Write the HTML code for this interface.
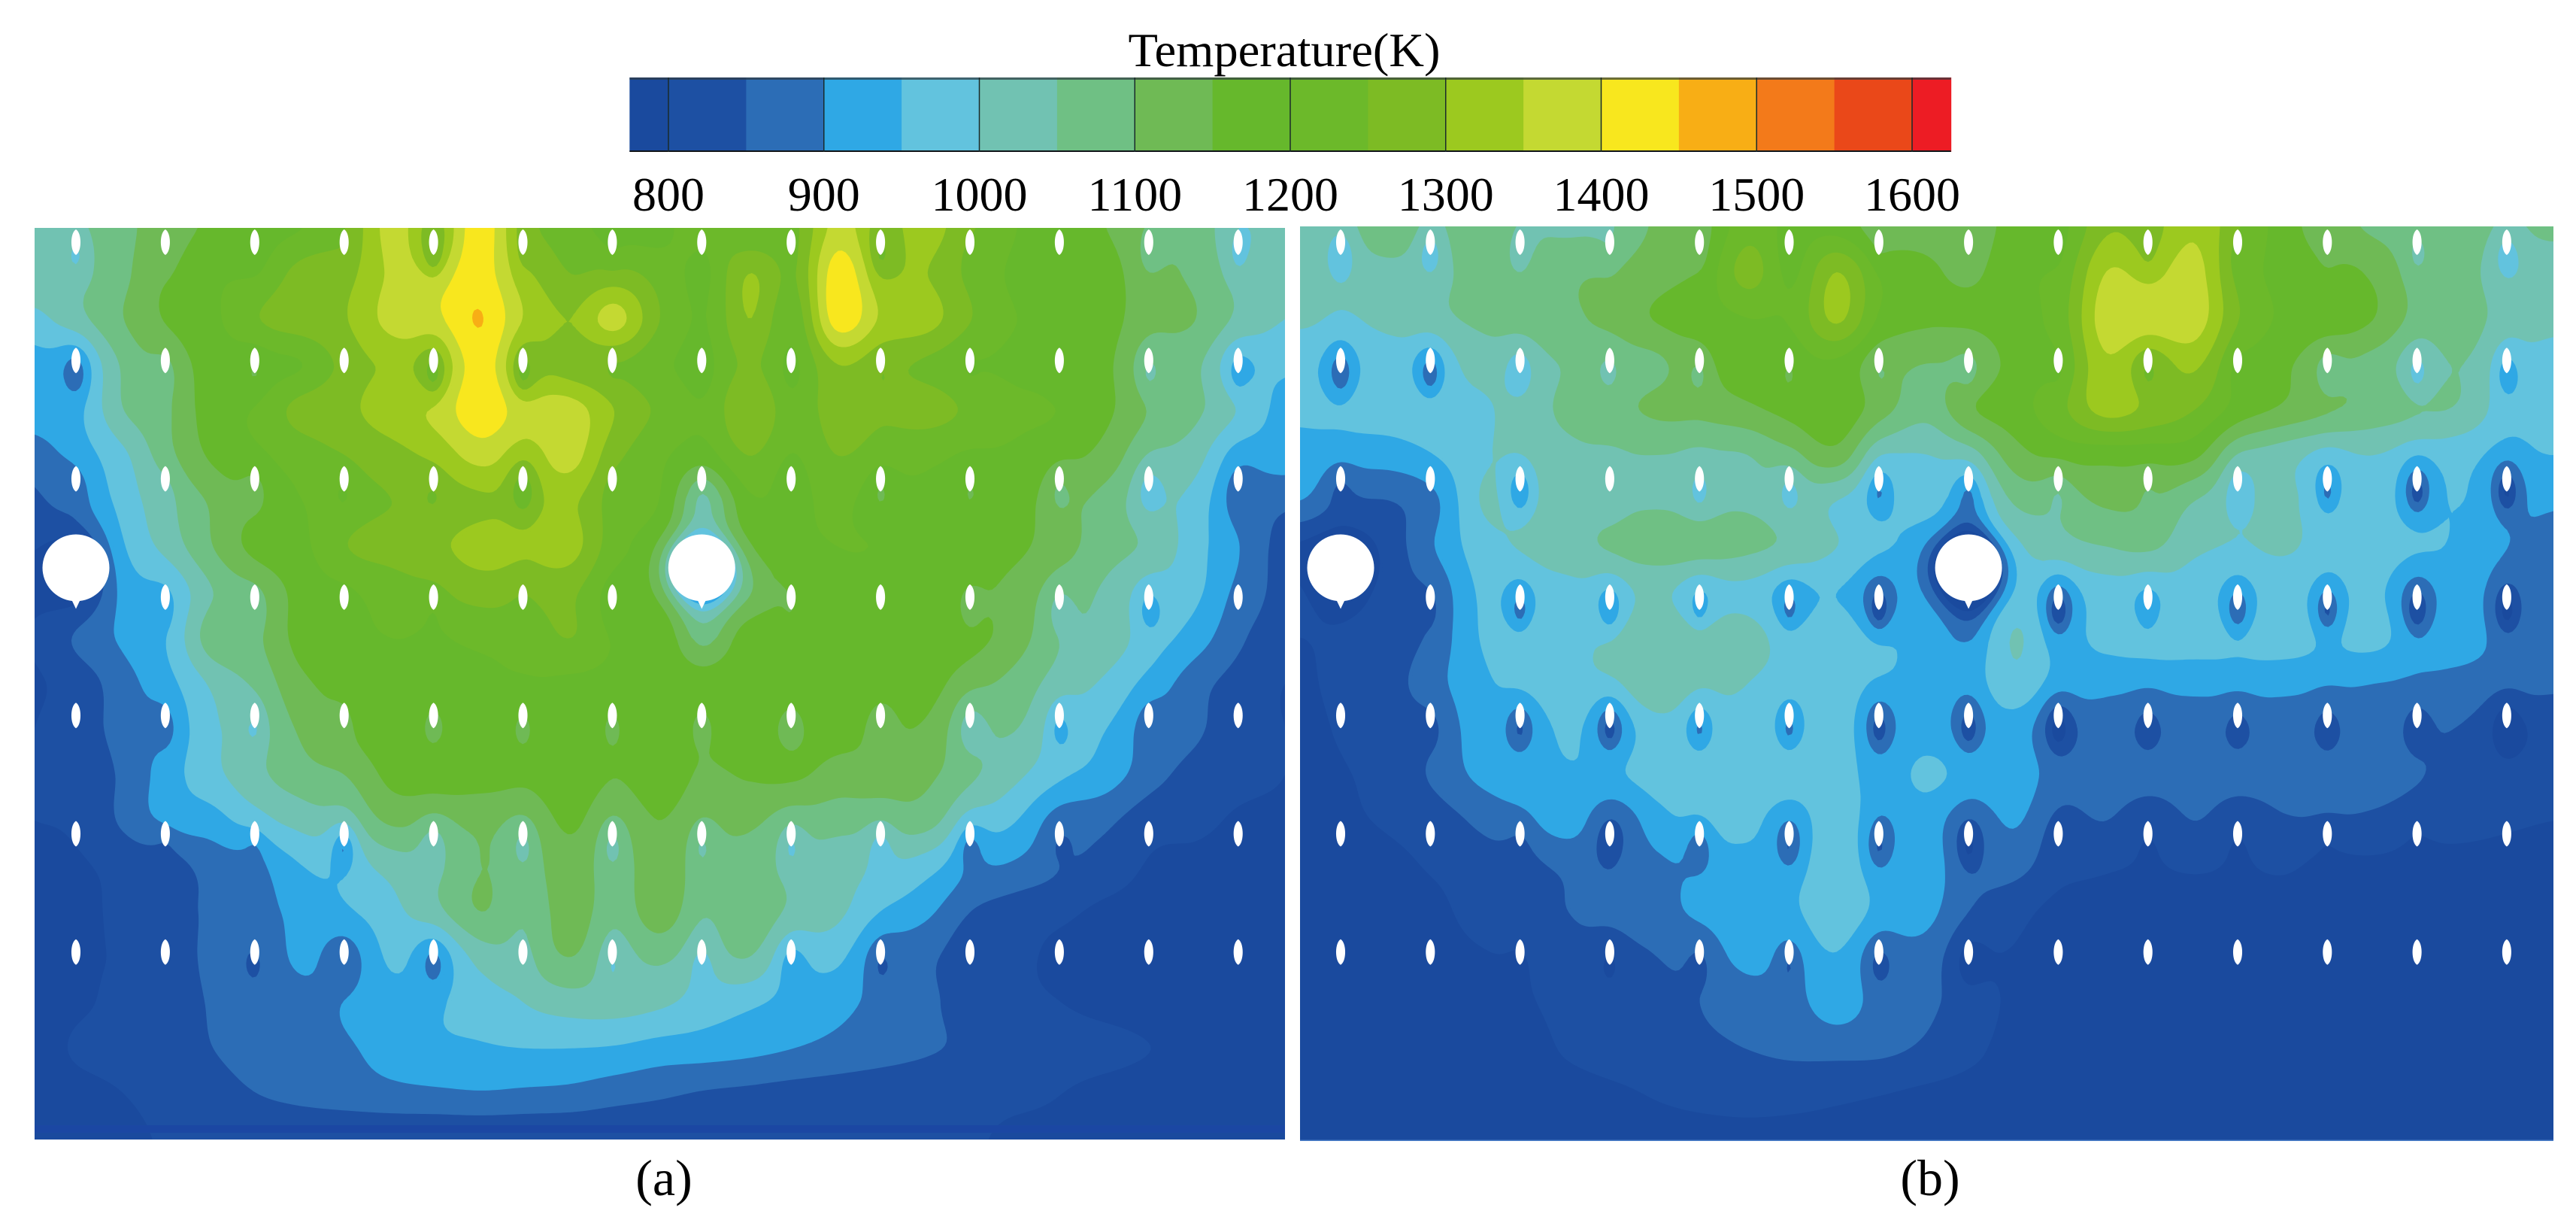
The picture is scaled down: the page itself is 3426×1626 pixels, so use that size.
<!DOCTYPE html>
<html lang="en">
<head>
<meta charset="utf-8">
<title>Temperature contours</title>
<style>
html,body{margin:0;padding:0;background:#fff;width:3426px;height:1626px;overflow:hidden}
svg{display:block}
text{font-family:"Liberation Serif",serif;fill:#000}
</style>
</head>
<body>
<svg id="chart" xmlns="http://www.w3.org/2000/svg" width="3426" height="1626" viewBox="0 0 3426 1626">
  <rect x="0" y="0" width="3426" height="1626" fill="#fff"/>
  <text x="1708" y="88" font-size="64" text-anchor="middle" textLength="415" lengthAdjust="spacingAndGlyphs">Temperature(K)</text>
  <g id="colorbar"></g>
  <g id="panelA"></g>
  <g id="panelB"></g>
  <rect x="46" y="1496" width="1663" height="10" fill="#1b47a3"/>
  <rect x="1729" y="1515.5" width="1667" height="1.5" fill="#4a7ec8"/>
  <text x="883" y="1589" font-size="68" text-anchor="middle">(a)</text>
  <text x="2567" y="1589" font-size="68" text-anchor="middle">(b)</text>
</svg>
<script>
const bandLevels = [800,850,900,950,1000,1050,1100,1150,1200,1250,1300,1350,1400,1450,1500,1550,1600];
const bandColors = ['#1a4a9e','#1d50a3','#2c6db6','#2fa8e5','#62c3de','#71c2b2','#6fc084','#6fba55','#66b82c','#6cb92a','#7dbb24','#9cc91f','#c4d932','#f8e71e','#f8ae15','#f37a1a','#ea4819','#ed1c24'];
const tickLabels = [800,900,1000,1100,1200,1300,1400,1500,1600];
const colorbarMin = 775;
const colorbarMax = 1625;

const tempGridA = [
[1040,1060,1090,1130,1160,1180,1200,1260,1370,1320,1430,1280,1220,1190,1180,1250,1200,1240,1370,1300,1320,1260,1200,1170,1150,1110,1080,1020,1010],
[1040,1050,1090,1160,1190,1210,1270,1290,1360,1390,1425,1320,1250,1270,1230,1200,1300,1250,1430,1320,1300,1240,1190,1190,1170,1120,1090,1040,1020],
[985,1040,1100,1160,1190,1250,1280,1300,1370,1395,1452,1350,1300,1370,1250,1200,1300,1220,1430,1340,1320,1250,1200,1200,1170,1120,1100,1040,1000],
[930,960,1060,1130,1170,1190,1200,1280,1310,1340,1425,1330,1270,1260,1210,1200,1260,1210,1300,1270,1240,1210,1190,1190,1160,1090,1060,980,960],
[925,950,1050,1100,1180,1210,1270,1290,1330,1370,1435,1380,1375,1300,1240,1210,1300,1220,1280,1260,1270,1240,1210,1200,1160,1100,1060,1000,930],
[875,930,990,1090,1160,1200,1220,1260,1280,1320,1370,1340,1370,1270,1210,1190,1250,1210,1250,1230,1210,1200,1190,1170,1130,1060,1020,930,925],
[840,900,970,1050,1110,1170,1200,1230,1250,1270,1290,1310,1310,1240,1200,1090,1190,1200,1210,1190,1190,1180,1170,1130,1080,1030,980,890,860],
[810,830,950,1020,1100,1170,1190,1250,1270,1290,1320,1310,1320,1220,1180,1170,1170,1190,1200,1200,1190,1180,1160,1120,1070,1040,970,900,830],
[795,810,920,960,1050,1110,1170,1200,1220,1250,1270,1270,1260,1190,1170,1120,1120,1170,1190,1190,1180,1170,1130,1090,1040,1000,960,890,830],
[805,860,910,960,1080,1100,1170,1190,1200,1200,1210,1220,1250,1200,1190,1110,1180,1190,1190,1190,1180,1170,1120,1060,1030,980,925,860,820],
[795,825,880,940,1010,1070,1140,1170,1190,1190,1190,1200,1190,1190,1190,1190,1190,1190,1190,1180,1170,1120,1080,1030,990,935,870,830,800],
[800,830,870,925,990,1050,1110,1165,1180,1180,1180,1185,1185,1185,1185,1185,1170,1170,1170,1160,1140,1070,1050,1000,950,900,860,815,800],
[800,820,860,930,985,1040,1080,1105,1165,1180,1175,1165,1185,1155,1180,1145,1155,1160,1130,1130,1110,1060,1010,960,925,870,830,810,800],
[800,810,860,920,930,990,1020,1060,1110,1110,1110,1120,1160,1120,1150,1120,1110,1090,1070,1080,1070,1000,950,880,860,820,810,795,795],
[785,795,815,835,870,900,950,985,1020,1060,1100,1090,1130,1090,1130,1090,1080,1050,1020,1010,970,920,890,860,830,795,790,785,785],
[785,785,815,830,860,880,920,945,985,1040,1100,1060,1130,1070,1130,1060,1090,1040,1010,950,910,850,825,810,790,785,785,785,785],
[785,795,805,830,860,870,910,890,960,950,1020,1060,1100,1050,1060,1040,1050,980,960,890,860,825,810,790,785,785,785,785,785],
[785,795,810,825,855,870,885,905,930,950,970,1005,1025,1025,1010,980,960,935,915,885,860,825,810,800,790,785,785,785,785],
[785,805,815,825,850,870,885,895,920,940,945,950,950,945,930,925,915,900,885,870,855,840,825,815,810,800,790,785,785],
[785,790,800,815,830,850,865,875,885,890,895,890,885,870,858,845,838,830,825,820,818,815,810,800,790,785,785,785,785],
[790,790,790,805,805,805,805,805,805,805,805,805,805,805,805,805,805,805,805,805,805,805,790,790,790,790,790,790,790]
];
const wakeA = [
[60,40,25,15,110,25,25,25,10,70,15,25,40,50],
[90,50,40,15,110,110,15,25,25,15,15,25,50,60],
[45,25,50,35,25,110,25,25,50,50,35,50,70,40],
[0,25,35,15,25,25,25,0,25,35,45,60,70,15],
[10,50,50,35,50,50,50,60,50,50,60,70,50,10],
[0,25,35,110,70,70,70,60,70,70,80,25,0,0],
[0,25,25,25,70,35,50,60,60,45,20,0,0,0]
];
const circleWakeA = [60,430];
const circleTailA = [0,60];

const tempGridB = [
[1040,1050,1100,1060,1100,1060,1040,1060,1110,1140,1230,1190,1180,1130,1130,1130,1170,1190,1290,1290,1340,1260,1170,1130,1090,1080,1080,1060,1060],
[1025,1025,1030,1045,1070,1075,1090,1110,1130,1170,1270,1200,1300,1200,1160,1150,1190,1220,1350,1340,1370,1240,1180,1170,1140,1085,1070,1025,1025],
[1010,1000,1015,1040,1060,1080,1090,1120,1155,1180,1200,1210,1310,1190,1160,1165,1180,1230,1380,1390,1380,1250,1190,1185,1150,1085,1075,1030,1020],
[965,975,975,990,1020,1040,1055,1080,1090,1160,1180,1190,1190,1130,1100,1120,1170,1220,1340,1290,1310,1210,1160,1120,1080,1050,1050,1010,970],
[960,970,975,985,990,1030,1060,1085,1110,1120,1140,1170,1190,1120,1070,1150,1180,1240,1320,1290,1250,1180,1140,1110,1080,1060,1040,975,960],
[930,925,925,950,990,1030,1040,1050,1050,1050,1050,1100,1130,1020,1000,1050,1130,1170,1170,1175,1160,1060,1020,1000,1000,985,965,950,950],
[900,860,850,890,1000,1020,1030,1045,1045,1045,1045,1040,1000,975,975,990,1060,1080,1110,1110,1050,1020,1010,990,975,960,950,930,910],
[800,790,825,900,975,1010,1030,1060,1075,1075,1060,1040,1000,960,940,1000,1010,1035,1050,1060,1010,1000,1005,985,970,960,940,905,870],
[810,800,825,870,955,980,985,1005,1010,990,985,960,950,930,930,950,985,965,975,985,975,975,975,975,960,930,925,900,880],
[800,805,820,870,950,990,985,1020,1035,1035,1020,985,975,965,930,945,1005,945,965,980,975,975,975,965,965,930,925,890,875],
[795,810,830,885,935,975,985,1005,1040,1020,1000,985,975,955,930,945,985,935,915,915,915,920,915,910,900,895,880,870,860],
[790,805,820,860,925,930,960,945,980,985,985,980,975,935,930,930,925,880,870,870,870,870,870,870,870,865,845,820,810],
[790,798,815,860,910,930,945,945,975,985,985,985,975,930,960,935,930,875,870,870,870,870,870,870,870,855,825,815,815],
[790,795,805,825,860,895,925,875,930,975,965,940,985,930,925,885,905,845,850,825,850,825,845,848,840,825,815,805,800],
[785,785,790,805,825,840,860,875,890,925,935,945,985,935,925,875,865,820,805,800,805,800,805,790,790,785,785,785,785],
[785,785,785,790,815,825,850,870,880,915,930,945,985,935,915,850,815,785,785,785,785,785,785,785,785,785,785,785,785],
[785,785,785,785,795,810,830,835,850,880,915,920,945,885,875,815,795,785,785,785,785,785,785,785,785,785,785,785,785],
[785,785,785,785,785,795,815,825,835,855,870,885,925,880,860,825,790,785,785,785,785,785,785,785,785,785,785,785,785],
[785,785,785,785,785,785,805,820,830,840,850,860,865,860,840,810,785,785,785,785,785,785,785,785,785,785,785,785,785],
[785,785,785,785,785,785,785,792,803,812,818,815,808,800,790,785,785,785,785,785,785,785,785,785,785,785,785,785,785],
[785,785,785,785,785,785,785,785,785,785,785,785,785,785,785,785,785,785,785,785,785,785,785,785,785,785,785,785,785]
];
const wakeB = [
[80,80,45,30,25,25,25,40,15,30,25,25,45,70],
[120,120,80,40,60,40,30,40,25,45,30,55,70,90],
[45,0,120,40,60,70,85,60,40,25,70,100,140,140],
[0,25,100,100,70,80,130,0,150,70,120,130,130,120],
[0,25,85,115,90,90,115,115,115,50,45,50,50,80],
[0,0,30,65,80,90,90,90,25,15,15,15,15,0],
[0,0,15,40,40,65,55,50,0,0,0,0,0,0]
];
const circleWakeB = [60,400];
const circleTailB = [0,110];

const NS = 'http://www.w3.org/2000/svg';
const STEP = 5;

function svgEl(tag, attrs){
  const el = document.createElementNS(NS, tag);
  for (const k in attrs) el.setAttribute(k, attrs[k]);
  return el;
}
function catmull(p0,p1,p2,p3,t){
  return 0.5*((2*p1)+(-p0+p2)*t+(2*p0-5*p1+4*p2-p3)*t*t+(-p0+3*p1-3*p2+p3)*t*t*t);
}
function sampleGrid(grid,u,v){
  const ny = grid.length, nx = grid[0].length;
  const iu = Math.min(nx-2, Math.max(0, Math.floor(u)));
  const iv = Math.min(ny-2, Math.max(0, Math.floor(v)));
  const tu = u-iu, tv = v-iv;
  const cl = (a,n)=>Math.max(0,Math.min(n-1,a));
  const col = [];
  for (let j=-1;j<=2;j++){
    const r = grid[cl(iv+j,ny)];
    col.push(catmull(r[cl(iu-1,nx)],r[iu],r[cl(iu+1,nx)],r[cl(iu+2,nx)],tu));
  }
  return catmull(col[0],col[1],col[2],col[3],tv);
}

function drawPanel(cfg){
  const g = document.getElementById(cfg.id);
  const W = cfg.right-cfg.left, H = cfg.bottom-cfg.top;
  const nx = Math.ceil(W/STEP)+1, ny = Math.ceil(H/STEP)+1;
  const sx = W/(nx-1), sy = H/(ny-1);
  const rowsG = cfg.grid.length, colsG = cfg.grid[0].length;
  const f = new Float32Array(nx*ny);
  for (let j=0;j<ny;j++) for (let i=0;i<nx;i++){
    f[j*nx+i] = sampleGrid(cfg.grid, i*sx/W*(colsG-1), j*sy/H*(rowsG-1));
  }
  function stamp(cx,cy,amp,sgx,sgy){
    if(!amp) return;
    const i0=Math.max(0,Math.floor((cx-cfg.left-3*sgx)/sx)), i1=Math.min(nx-1,Math.ceil((cx-cfg.left+3*sgx)/sx));
    const j0=Math.max(0,Math.floor((cy-cfg.top-3*sgy)/sy)), j1=Math.min(ny-1,Math.ceil((cy-cfg.top+3*sgy)/sy));
    for(let j=j0;j<=j1;j++) for(let i=i0;i<=i1;i++){
      const dx=(cfg.left+i*sx-cx)/sgx, dy=(cfg.top+j*sy-cy)/sgy;
      f[j*nx+i]-=amp*Math.exp(-0.5*(dx*dx+dy*dy));
    }
  }
  cfg.wake.forEach((row,r)=>row.forEach((amp,c)=>{
    const hx=cfg.holeX0+c*cfg.holeDX, hy=cfg.holeY0+r*cfg.holeDY;
    stamp(hx, hy+10, amp*0.65, 17, 30);
    stamp(hx, hy+20, amp*0.4, 7, 14);
  }));
  cfg.circleWake.forEach((amp,k)=>{
    stamp(cfg.holeX0+k*7*cfg.holeDX, cfg.circleY, amp, 30, 30);
  });
  cfg.circleTail.forEach((amp,k)=>{
    stamp(cfg.holeX0+k*7*cfg.holeDX, cfg.circleY, amp, 22, 70);
  });

  const bg = svgEl('rect',{x:cfg.left,y:cfg.top,width:W,height:H,fill:bandColors[0]});
  
  
  g.appendChild(bg);

  const X = i=>(cfg.left+i*sx).toFixed(1), Y = j=>(cfg.top+j*sy).toFixed(1);
  bandLevels.forEach((lev,k)=>{
    const parts = [];
    const lerp = (a,b)=>(lev-a)/(b-a);
    for (let j=0;j<ny-1;j++){
      let runStart=-1;
      for (let i=0;i<nx-1;i++){
        const a=f[j*nx+i], b=f[j*nx+i+1], c=f[(j+1)*nx+i+1], d=f[(j+1)*nx+i];
        const ia=a>=lev, ib=b>=lev, ic=c>=lev, id=d>=lev;
        const full=ia&&ib&&ic&&id;
        if(full){ if(runStart<0) runStart=i; }
        if((!full||i===nx-2)&&runStart>=0){
          const end = full? i+1 : i;
          parts.push('M'+X(runStart)+' '+Y(j)+'H'+X(end)+'V'+Y(j+1)+'H'+X(runStart)+'Z');
          runStart=-1;
        }
        if(full) continue;
        if(!(ia||ib||ic||id)) continue;
        const x0=cfg.left+i*sx, y0=cfg.top+j*sy;
        const pts=[];
        if(ia) pts.push([x0,y0]);
        if(ia!==ib) pts.push([x0+sx*lerp(a,b),y0]);
        if(ib) pts.push([x0+sx,y0]);
        if(ib!==ic) pts.push([x0+sx,y0+sy*lerp(b,c)]);
        if(ic) pts.push([x0+sx,y0+sy]);
        if(ic!==id) pts.push([x0+sx*(1-lerp(c,d)),y0+sy]);
        if(id) pts.push([x0,y0+sy]);
        if(id!==ia) pts.push([x0,y0+sy*(1-lerp(d,a))]);
        parts.push('M'+pts.map(p=>p[0].toFixed(1)+' '+p[1].toFixed(1)).join('L')+'Z');
      }
    }
    if(!parts.length) return;
    const path = svgEl('path',{d:parts.join(''),fill:bandColors[k+1],'fill-rule':'nonzero'});
    
    
    g.appendChild(path);
  });

  const rx=7, ry=17, kx=rx*1.15;
  cfg.wake.forEach((row,r)=>row.forEach((amp,c)=>{
    if(r===3 && c%7===0) return;
    const x=cfg.holeX0+c*cfg.holeDX, y=cfg.holeY0+r*cfg.holeDY;
    const hole = svgEl('path',{fill:'#fff',d:`M${x} ${y-ry}C${x+kx} ${y-ry*.72} ${x+kx} ${y+ry*.72} ${x} ${y+ry}C${x-kx} ${y+ry*.72} ${x-kx} ${y-ry*.72} ${x} ${y-ry}Z`});
    
    
    g.appendChild(hole);
  }));
  [0,7].forEach(c=>{
    const x=cfg.holeX0+c*cfg.holeDX, y=cfg.circleY, R=44.5;
    const big = svgEl('path',{fill:'#fff',d:`M${x-R} ${y}A${R} ${R} 0 1 1 ${x+R} ${y}A${R} ${R} 0 0 1 ${x+5} ${y+R-0.5}L${x} ${y+R+10}L${x-5} ${y+R-0.5}A${R} ${R} 0 0 1 ${x-R} ${y}Z`});
    
    
    g.appendChild(big);
  });
}

function drawColorbar(){
  const g = document.getElementById('colorbar');
  const top=103, bottom=202;
  const xOf = t=>889+(t-800)*(2543-889)/800;
  const edges = [colorbarMin].concat(bandLevels,[colorbarMax]);
  bandColors.forEach((col,k)=>{
    const r = svgEl('rect',{x:xOf(edges[k]),y:top,width:xOf(edges[k+1])-xOf(edges[k])+0.5,height:bottom-top,fill:col});
    
    
    g.appendChild(r);
  });
  const topLine = svgEl('rect',{x:xOf(colorbarMin),y:top,width:xOf(colorbarMax)-xOf(colorbarMin),height:3,fill:'#303a40','fill-opacity':0.7});
  
  
  g.appendChild(topLine);
  const botLine = svgEl('rect',{x:xOf(colorbarMin),y:bottom-2,width:xOf(colorbarMax)-xOf(colorbarMin),height:2,fill:'#101418'});
  
  
  g.appendChild(botLine);
  tickLabels.forEach(t=>{
    const line = svgEl('line',{x1:xOf(t),x2:xOf(t),y1:top,y2:bottom,stroke:'#1a2a2a','stroke-width':1.5});
    
    
    g.appendChild(line);
    const txt = svgEl('text',{x:xOf(t),y:280,'font-size':64,'text-anchor':'middle'});
    txt.textContent = String(t);
    
    
    g.appendChild(txt);
  });
}

drawColorbar();
drawPanel({id:'panelA',name:'panel-a',left:46,right:1709,top:303,bottom:1515,grid:tempGridA,wake:wakeA,circleWake:circleWakeA,circleTail:circleTailA,holeX0:101,holeDX:118.9,holeY0:322,holeDY:157.3,circleY:755});
drawPanel({id:'panelB',name:'panel-b',left:1729,right:3396,top:301,bottom:1517,grid:tempGridB,wake:wakeB,circleWake:circleWakeB,circleTail:circleTailB,holeX0:1783,holeDX:119.3,holeY0:322,holeDY:157.3,circleY:755});
</script>
</body>
</html>
